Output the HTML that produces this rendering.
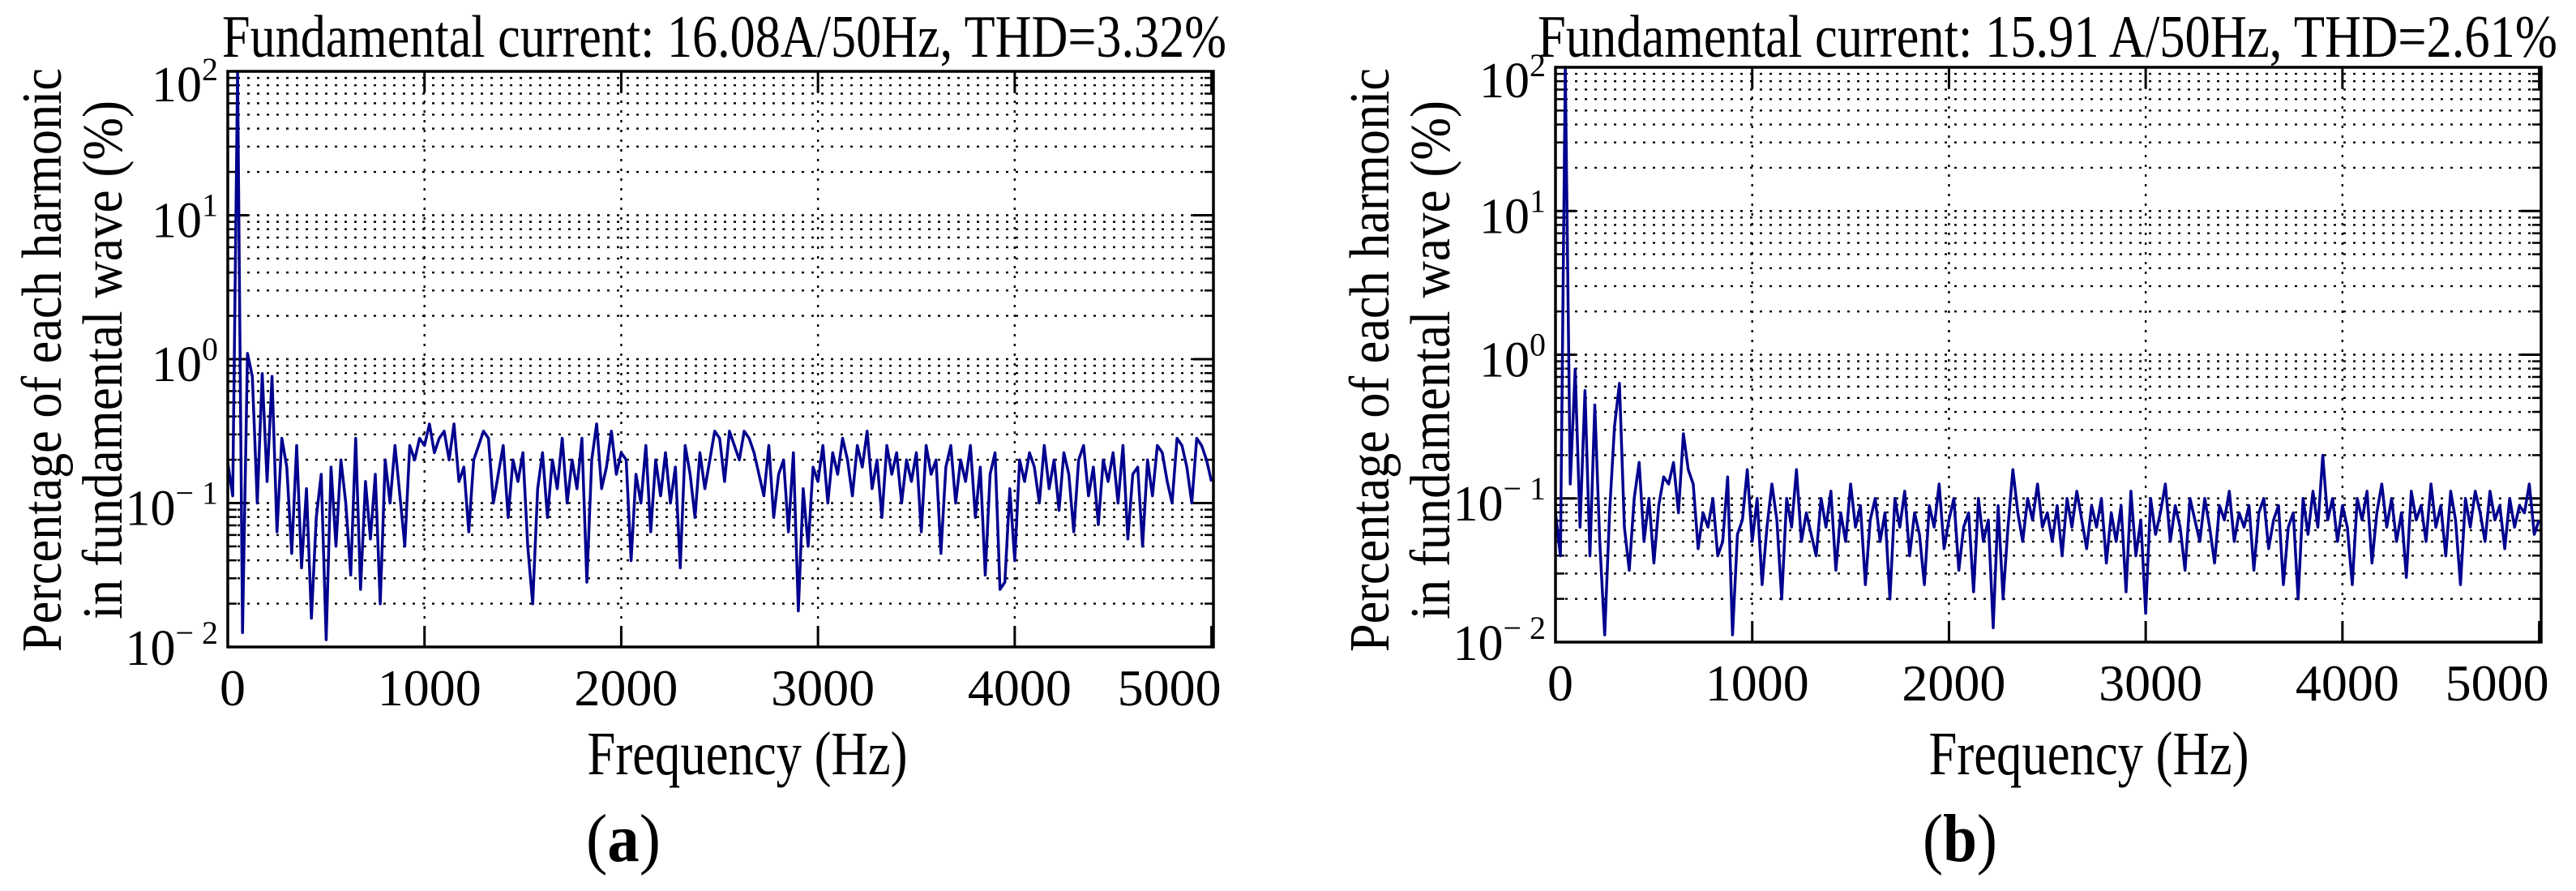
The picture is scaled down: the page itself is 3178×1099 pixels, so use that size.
<!DOCTYPE html>
<html><head><meta charset="utf-8">
<style>
html,body{margin:0;padding:0;background:#fff;}
svg{display:block;font-family:"Liberation Serif",serif;}
</style></head>
<body>
<svg id="fig" width="3178" height="1099" viewBox="0 0 3178 1099" xmlns="http://www.w3.org/2000/svg">
<rect width="3178" height="1099" fill="#fff"/>
<g id="chartA"></g>
<g id="chartB"></g>
</svg>
<script>
const xTickValues = [0, 1000, 2000, 3000, 4000, 5000];
const xTickLabels = ["0", "1000", "2000", "3000", "4000", "5000"];
const yDecades = [-2, -1, 0, 1, 2];
const yTickExps = ["− 2", "− 1", "0", "1", "2"];
const freqStep = 25;
const titleA = "Fundamental current: 16.08A/50Hz, THD=3.32%";
const titleB = "Fundamental current: 15.91 A/50Hz, THD=2.61%";
// log10 of percentage, one value per 25 Hz from 0 to 5000 Hz
const seriesA = [
-0.72,-0.95,2.0,-1.9,0.04,-0.12,-1.0,-0.1,-0.85,-0.12,
-1.2,-0.55,-0.75,-1.35,-0.6,-1.45,-0.9,-1.8,-1.1,-0.8,
-1.95,-0.75,-1.3,-0.7,-1.0,-1.5,-0.55,-1.6,-0.85,-1.25,
-0.8,-1.7,-0.7,-1.0,-0.6,-0.95,-1.3,-0.6,-0.7,-0.55,
-0.6,-0.45,-0.65,-0.55,-0.5,-0.7,-0.45,-0.85,-0.75,-1.2,
-0.7,-0.6,-0.5,-0.55,-1.0,-0.8,-0.6,-1.1,-0.7,-0.85,
-0.65,-1.3,-1.7,-0.9,-0.65,-1.1,-0.7,-0.9,-0.55,-1.0,
-0.7,-0.9,-0.55,-1.55,-0.7,-0.45,-0.9,-0.75,-0.5,-0.8,
-0.65,-0.7,-1.4,-0.8,-1.0,-0.6,-1.2,-0.7,-0.95,-0.65,
-1.0,-0.75,-1.45,-0.6,-0.8,-1.1,-0.65,-0.9,-0.7,-0.5,
-0.55,-0.85,-0.5,-0.6,-0.7,-0.5,-0.55,-0.65,-0.8,-0.95,
-0.6,-1.1,-0.8,-0.7,-1.2,-0.65,-1.75,-0.9,-1.3,-0.75,
-0.85,-0.6,-1.0,-0.65,-0.8,-0.55,-0.7,-0.95,-0.6,-0.75,
-0.5,-0.9,-0.7,-1.1,-0.6,-0.8,-0.65,-1.0,-0.7,-0.85,
-0.65,-1.2,-0.6,-0.8,-0.7,-1.35,-0.75,-0.6,-1.0,-0.7,
-0.85,-0.6,-1.1,-0.75,-1.5,-0.8,-0.65,-1.6,-1.55,-0.9,
-1.4,-0.7,-0.85,-0.65,-0.75,-1.0,-0.6,-0.9,-0.7,-1.05,
-0.65,-0.8,-1.2,-0.7,-0.6,-0.95,-0.75,-1.15,-0.7,-0.85,
-0.65,-1.0,-0.6,-1.25,-0.8,-0.75,-1.3,-0.7,-0.95,-0.6,
-0.65,-0.85,-1.0,-0.55,-0.6,-0.75,-1.0,-0.55,-0.6,-0.7,-0.85];
const seriesB = [
-1.1,-1.4,2.0,-0.9,-0.1,-1.2,-0.25,-1.4,-0.35,-1.3,
-1.95,-1.1,-0.5,-0.2,-1.2,-1.5,-1.0,-0.75,-1.3,-1.0,
-1.45,-1.05,-0.85,-0.9,-0.75,-1.1,-0.55,-0.8,-0.9,-1.35,
-1.1,-1.2,-1.0,-1.4,-1.3,-0.85,-1.95,-1.25,-1.15,-0.8,
-1.3,-1.0,-1.6,-1.2,-0.9,-1.15,-1.7,-1.0,-1.2,-0.8,
-1.3,-1.1,-1.25,-1.4,-1.0,-1.2,-0.95,-1.5,-1.1,-1.3,
-0.9,-1.2,-1.05,-1.6,-1.15,-1.0,-1.3,-1.1,-1.7,-1.0,
-1.2,-0.95,-1.4,-1.1,-1.25,-1.6,-1.05,-1.2,-0.9,-1.35,
-1.15,-1.0,-1.5,-1.2,-1.1,-1.65,-1.0,-1.3,-1.15,-1.9,
-1.05,-1.7,-1.2,-0.8,-1.1,-1.3,-1.0,-1.15,-0.9,-1.2,
-1.1,-1.3,-1.05,-1.4,-1.0,-1.2,-0.95,-1.15,-1.35,-1.05,
-1.2,-1.0,-1.45,-1.1,-1.3,-1.05,-1.65,-0.95,-1.4,-1.15,
-1.8,-1.0,-1.25,-1.1,-0.9,-1.3,-1.05,-1.2,-1.5,-1.0,
-1.15,-1.3,-1.0,-1.2,-1.45,-1.05,-1.15,-0.95,-1.3,-1.1,
-1.2,-1.05,-1.5,-1.1,-1.0,-1.35,-1.15,-1.05,-1.6,-1.2,
-1.1,-1.7,-1.0,-1.25,-0.95,-1.2,-0.7,-1.15,-1.0,-1.3,
-1.05,-1.2,-1.6,-1.0,-1.15,-0.95,-1.45,-1.1,-0.9,-1.2,
-1.0,-1.3,-1.1,-1.55,-0.95,-1.15,-1.05,-1.3,-0.9,-1.2,
-1.05,-1.4,-0.95,-1.15,-1.6,-1.0,-1.2,-0.95,-1.1,-1.3,
-0.95,-1.15,-1.05,-1.35,-1.0,-1.2,-1.05,-1.1,-0.9,-1.25,-1.15];

const NS = "http://www.w3.org/2000/svg";
function mk(parent, tag, attrs) {
  const e = document.createElementNS(NS, tag);
  for (const k in attrs) e.setAttribute(k, attrs[k]);
  parent.appendChild(e);
  return e;
}

function drawChart(g, o, series, title, panel) {
  const L = o.left, R = o.right, T = o.top, B = o.bottom;
  const xMax = 5010;
  const xs = v => L + (v / xMax) * (R - L);
  const ys = lg => B - (lg + 2) / 4 * (B - T);

  for (let d = -2; d < 2; d++) {
    for (let m = 2; m <= 9; m++) {
      const y = ys(d + Math.log10(m));
      const gl = mk(g, "line", {x1: L, x2: R, y1: y, y2: y, stroke: "#000", "stroke-width": 2.4, "stroke-dasharray": "3 9"});
      
      
      const t1 = mk(g, "line", {x1: L, x2: L + 11, y1: y, y2: y, stroke: "#000", "stroke-width": 2.5});
      
      
      const t2 = mk(g, "line", {x1: R - 11, x2: R, y1: y, y2: y, stroke: "#000", "stroke-width": 2.5});
      
      
    }
  }
  yDecades.forEach((d, i) => {
    const y = ys(d);
    if (d > -2 && d < 2) {
      const gl = mk(g, "line", {x1: L, x2: R, y1: y, y2: y, stroke: "#000", "stroke-width": 2.4, "stroke-dasharray": "3 9"});
      
      
    }
    const t1 = mk(g, "line", {x1: L, x2: L + 25, y1: y, y2: y, stroke: "#000", "stroke-width": 3});
    
    
    const t2 = mk(g, "line", {x1: R - 25, x2: R, y1: y, y2: y, stroke: "#000", "stroke-width": 3});
    
    
    const base = d === 2 ? y + 37 : (d === -2 ? y + 22 : y + 27);
    const tx = mk(g, "text", {x: L - 12, y: base, "text-anchor": "end", "font-size": 62});
    
    
    const a = document.createElementNS(NS, "tspan");
    a.textContent = "10";
    tx.appendChild(a);
    const b = document.createElementNS(NS, "tspan");
    b.setAttribute("dy", "-26");
    b.setAttribute("font-size", "40");
    b.textContent = yTickExps[i];
    tx.appendChild(b);
  });
  xTickValues.forEach((v, i) => {
    const x = xs(v);
    if (v > 0 && v < 5000) {
      const gl = mk(g, "line", {x1: x, x2: x, y1: T, y2: B, stroke: "#000", "stroke-width": 2.4, "stroke-dasharray": "3 9"});
      
      
    }
    const t1 = mk(g, "line", {x1: x, x2: x, y1: B, y2: B - 26, stroke: "#000", "stroke-width": 3});
    
    
    const t2 = mk(g, "line", {x1: x, x2: x, y1: T, y2: T + 26, stroke: "#000", "stroke-width": 3});
    
    
    const lx = v === 5000 ? x - 52 : x + 6;
    const tl = mk(g, "text", {x: lx, y: B + 72, "text-anchor": "middle", "font-size": 64});
    
    
    tl.textContent = xTickLabels[i];
  });
  let d = "";
  series.forEach((v, i) => {
    d += (i ? "L" : "M") + xs(i * freqStep).toFixed(1) + "," + ys(v).toFixed(1);
  });
  const p = mk(g, "path", {d: d, fill: "none", stroke: "#00008f", "stroke-width": 3.5, "stroke-linejoin": "round"});
  
  
  const fr = mk(g, "rect", {x: L, y: T, width: R - L, height: B - T, fill: "none", stroke: "#000", "stroke-width": 3.5});
  
  
  const ti = mk(g, "text", {x: o.titleX, y: 70, "font-size": 74, textLength: o.titleW, lengthAdjust: "spacingAndGlyphs"});
  
  
  ti.textContent = title;
  const cy = 444;
  const y1 = mk(g, "text", {x: 0, y: 0, "font-size": 70, "text-anchor": "middle", textLength: 720, lengthAdjust: "spacingAndGlyphs", transform: "translate(" + (L - 206) + "," + cy + ") rotate(-90)"});
  
  
  y1.textContent = "Percentage of each harmonic";
  const y2 = mk(g, "text", {x: 0, y: 0, "font-size": 70, "text-anchor": "middle", textLength: 640, lengthAdjust: "spacingAndGlyphs", transform: "translate(" + (L - 131) + "," + cy + ") rotate(-90)"});
  
  
  y2.textContent = "in fundamental wave (%)";
  const xl = mk(g, "text", {x: o.xLabelX, y: 955, "font-size": 76, "text-anchor": "middle", textLength: 395, lengthAdjust: "spacingAndGlyphs"});
  
  
  xl.textContent = "Frequency (Hz)";
  const pl = mk(g, "text", {x: o.panelX, y: 1062, "font-size": 84, "text-anchor": "middle", textLength: 92, lengthAdjust: "spacingAndGlyphs"});
  
  
  const p1 = document.createElementNS(NS, "tspan"); p1.textContent = "("; pl.appendChild(p1);
  const p2 = document.createElementNS(NS, "tspan"); p2.setAttribute("font-weight", "bold"); p2.textContent = panel; pl.appendChild(p2);
  const p3 = document.createElementNS(NS, "tspan"); p3.textContent = ")"; pl.appendChild(p3);
}

drawChart(document.getElementById("chartA"),
  {left: 281, right: 1497, top: 88, bottom: 798, titleX: 274, titleW: 1239, xLabelX: 922, panelX: 769},
  seriesA, titleA, "a");
drawChart(document.getElementById("chartB"),
  {left: 1919, right: 3135, top: 83, bottom: 792, titleX: 1897, titleW: 1258, xLabelX: 2577, panelX: 2418},
  seriesB, titleB, "b");
</script>
</body></html>
